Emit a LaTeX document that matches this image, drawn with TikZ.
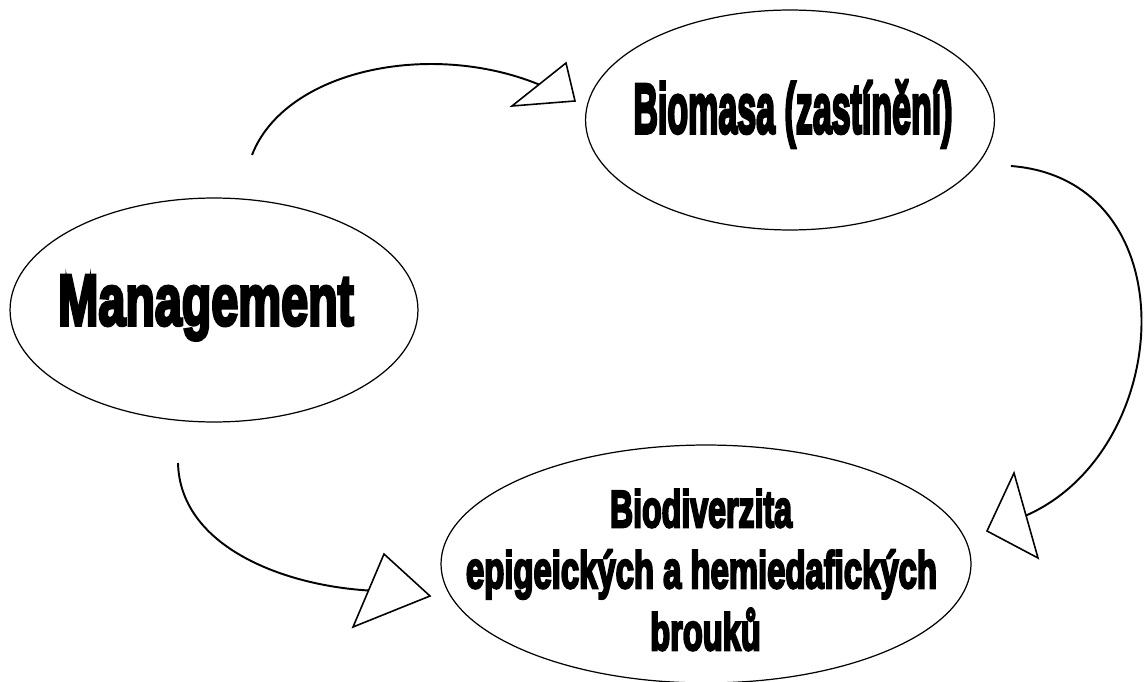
\documentclass[tikz,border=0pt]{standalone}
\usepackage{fontspec}
\usepackage{graphicx}
\usetikzlibrary{shapes.geometric,calc}
\newfontfamily\impactfont{Liberation Sans}[UprightFont={* Bold}, FakeBold=5]
\newcommand{\squeezetext}[2]{\scalebox{#1}[1.1]{#2}}
\tikzset{
  bubble/.style={draw, ellipse, line width=0.7pt, inner sep=0pt},
  flow/.style={line width=1.1pt},
  headtri/.style={draw, line width=0.9pt, line join=miter, fill=white},
  bigtext/.style={inner sep=0pt, anchor=base, font=\impactfont},
}
\begin{document}
\begin{tikzpicture}[x=0.02cm, y=-0.02cm]
\useasboundingbox (0,0) rectangle (1145,682);
% ellipses
\node[bubble, minimum width=8.16cm, minimum height=4.48cm] (mgmt) at (214,310) {};
\node[bubble, minimum width=8.18cm, minimum height=4.40cm] (bio) at (790,120) {};
\node[bubble, minimum width=10.6cm, minimum height=4.76cm] (div) at (706,564) {};
% texts
\node[bigtext] (mgmtT) at (206,325) {\fontsize{37.2}{44}\selectfont\squeezetext{0.74}{Management}};
\node[bigtext] (bioT) at (793,133) {\fontsize{36.5}{42}\selectfont\squeezetext{0.53}{Biomasa (zastínění)}};
\node[bigtext] (divT1) at (701,527) {\fontsize{26.9}{32}\selectfont\squeezetext{0.68}{Biodiverzita}};
\node[bigtext] (divT2) at (701.5,588) {\fontsize{26.9}{32}\selectfont\squeezetext{0.695}{epigeických a hemiedafických}};
\node[bigtext] (divT3) at (705.5,650) {\fontsize{26.9}{32}\selectfont\squeezetext{0.69}{brouků}};
% arrow 1: Management -> Biomasa
\coordinate (a1s) at (252,155);
\coordinate (a1l) at (512,106);
\coordinate (a1r) at (566,63);
\coordinate (a1t) at (575,101);
\coordinate (a1e) at ($(a1l)!0.5!(a1r)$);
\draw[flow] (a1s) .. controls (285,70) and (430,40) .. (a1e);
\draw[headtri] (a1l) -- (a1r) -- (a1t) -- cycle;
% arrow 2: Biomasa -> Biodiverzita
\coordinate (a2s) at (1011,166);
\coordinate (a2l) at (1014,473);
\coordinate (a2r) at (1038,558);
\coordinate (a2t) at (987,531);
\coordinate (a2e) at ($(a2l)!0.5!(a2r)$);
\draw[flow] (a2s) .. controls (1190,180) and (1175,450) .. (a2e);
\draw[headtri] (a2l) -- (a2r) -- (a2t) -- cycle;
% arrow 3: Management -> Biodiverzita
\coordinate (a3s) at (178,463);
\coordinate (a3l) at (384,554);
\coordinate (a3r) at (353,627);
\coordinate (a3t) at (430,596);
\coordinate (a3e) at ($(a3l)!0.5!(a3r)$);
\draw[flow] (a3s) .. controls (180,545) and (280,585) .. (a3e);
\draw[headtri] (a3l) -- (a3r) -- (a3t) -- cycle;
\end{tikzpicture}
\end{document}
